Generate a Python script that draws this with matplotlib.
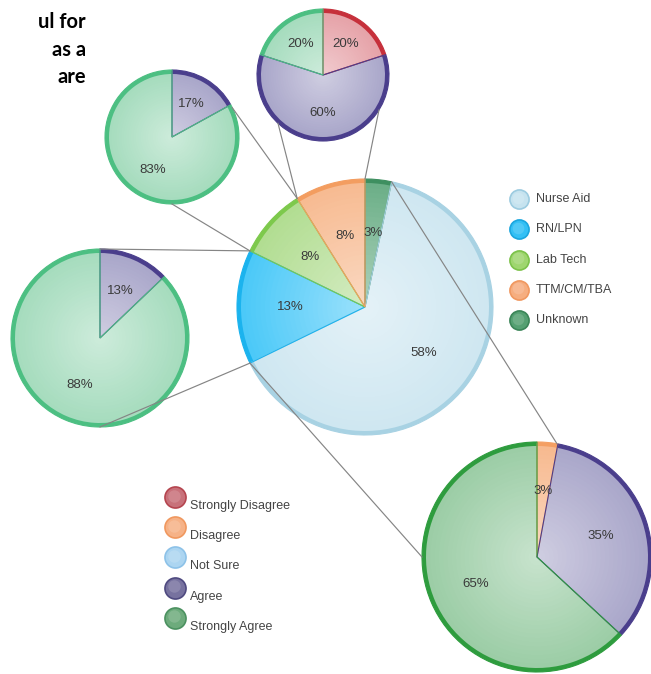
import matplotlib
matplotlib.use("Agg")
import matplotlib.pyplot as plt
import matplotlib.colors as mcolors
import numpy as np

# main pie: job category (values as printed on the slices)
jobs = ["Nurse Aid", "RN/LPN", "Lab Tech", "TTM/CM/TBA", "Unknown"]
job_pct = [58, 13, 8, 8, 3]
job_fill = ["#cfe7f1", "#4cc9f8", "#b2dd92", "#f7bb92", "#6caf88"]
job_rim = ["#a8d2e3", "#1bb3ee", "#7dc94c", "#f39d60", "#3e8f60"]
job_leg_face = ["#c6e3ef", "#33c0f5", "#9fd66f", "#f6ae80", "#55a072"]
job_leg_edge = ["#9ccbe0", "#1aa6de", "#7cc24a", "#f09860", "#3b8558"]

# answer categories
answers = ["Strongly Disagree", "Disagree", "Not Sure", "Agree", "Strongly Agree"]
ans_leg_face = ["#c8717a", "#f6b287", "#acd5f1", "#77729f", "#6dab7c"]
ans_leg_edge = ["#b5454f", "#f0985f", "#8dc2e8", "#4f4a80", "#4b9160"]

# sub pies: answers given by each job group
ttm_ans = ["Strongly Disagree", "Agree", "Strongly Agree"]
ttm_pct = [20, 60, 20]
lab_ans = ["Agree", "Strongly Agree"]
lab_pct = [17, 83]
rn_ans = ["Agree", "Strongly Agree"]
rn_pct = [13, 88]
na_ans = ["Disagree", "Agree", "Strongly Agree"]
na_pct = [3, 35, 65]

ans_fill = {"Strongly Disagree": "#e6a3a9", "Disagree": "#f7ba90", "Not Sure": "#b9dcf3",
            "Agree": "#aaa7ca", "Strongly Agree": "#a6dcbe"}
ans_rim = {"Strongly Disagree": "#c6303b", "Disagree": "#f49f63", "Not Sure": "#8dc2e8",
           "Agree": "#4a3e8c", "Strongly Agree": "#4cbf82"}

W, H = 651, 674


def py(y):
    return H - y


def blend(c, t):
    rgb = np.array(mcolors.to_rgb(c))
    return tuple(rgb + (1 - rgb) * t)


def draw_pie(ax, vals, fills, rims, cx, cy, r):
    c = (cx, py(cy))
    ax.pie(vals, colors=rims, radius=r, center=c, startangle=90,
           counterclock=False, wedgeprops=dict(linewidth=0))
    n = 26
    r0 = r - 4
    for i in range(n):
        rr = r0 * (1 - i / n)
        t = 0.45 * i / n
        ax.pie(vals, colors=[blend(f, t) for f in fills], radius=rr, center=c,
               startangle=90, counterclock=False, wedgeprops=dict(linewidth=0))
    w, tx = ax.pie(vals, labels=[f"{v}%" for v in vals], radius=r, center=c,
                   startangle=90, counterclock=False, labeldistance=0.58,
                   wedgeprops=dict(fill=False, linewidth=0.8),
                   textprops=dict(fontsize=9.5, color="#3a3a3a", family="Liberation Sans"))
    for wi, rc in zip(w, rims):
        wi.set_edgecolor(rc)
    for t in tx:
        t.set_ha("center")
        t.set_va("center")


def edge_angles(vals):
    cum = np.concatenate([[0], np.cumsum(vals)]) / np.sum(vals)
    return 90 - 360 * cum


def on_circle(cx, cy, r, ang):
    a = np.radians(ang)
    return cx + r * np.cos(a), py(cy) + r * np.sin(a)


fig = plt.figure(figsize=(6.51, 6.74), dpi=100)
ax = fig.add_axes([0, 0, 1, 1])

# main pie, clockwise from the top: Unknown, Nurse Aid, RN/LPN, Lab Tech, TTM
order = [4, 0, 1, 2, 3]
main_vals = [job_pct[i] for i in order]
mcx, mcy, mr = 365, 307, 128
draw_pie(ax, main_vals, [job_fill[i] for i in order], [job_rim[i] for i in order], mcx, mcy, mr)
edges = edge_angles(main_vals)
# boundaries: 0 top, 1 Unknown/NA, 2 NA/RN, 3 RN/Lab, 4 Lab/TTM
b = [on_circle(mcx, mcy, mr, a) for a in edges]

# sub pies: (values, answers, centre, radius, sub-circle angles, main boundary idx)
green_dark = {"Strongly Agree": ("#9ccda6", "#2e9c3e")}
subs = [
    (ttm_pct, ttm_ans, (323, 75), 66, (-32, 227), (0, 4), {}),
    (lab_pct, lab_ans, (172, 137), 67, (26, -90), (4, 3), {}),
    (rn_pct, rn_ans, (100, 338), 89, (90, -90), (3, 2), {}),
    (na_pct, na_ans, (537, 557), 115, (80, 180), (1, 2), green_dark),
]

for vals, ans, (cx, cy), r, angs, bidx, override in subs:
    fills = [override.get(a, (ans_fill[a], ans_rim[a]))[0] for a in ans]
    rims = [override.get(a, (ans_fill[a], ans_rim[a]))[1] for a in ans]
    draw_pie(ax, vals, fills, rims, cx, cy, r)
    for ang, bi in zip(angs, bidx):
        p = on_circle(cx, cy, r, ang)
        q = b[bi]
        ax.plot([p[0], q[0]], [p[1], q[1]], color="#858585", lw=0.85, zorder=10)

# job legend
for i, name in enumerate(jobs):
    y = py(199 + 30.3 * i)
    ax.scatter(519, y, s=190, c=job_leg_face[i], edgecolors=job_leg_edge[i], linewidths=1.2, zorder=5)
    ax.scatter(518, y + 1.5, s=70, c=blend(job_leg_face[i], 0.25), linewidths=0, zorder=5, alpha=0.6)
    ax.text(536, y, name, fontsize=9, color="#444444", va="center", family="Liberation Sans")

# answer legend
for i, name in enumerate(answers):
    y = py(497 + 30.2 * i)
    ax.scatter(175, y, s=230, c=ans_leg_face[i], edgecolors=ans_leg_edge[i], linewidths=1.2, zorder=5)
    ax.scatter(174, y + 1.5, s=80, c=blend(ans_leg_face[i], 0.25), linewidths=0, zorder=5, alpha=0.6)
    ax.text(190, y - 9, name, fontsize=9, color="#444444", va="center", family="Liberation Sans")

# cut-off slide text
for txt, yy in [("ul for", 22), ("as a", 50), ("are", 77)]:
    ax.text(86, py(yy), txt, fontsize=14.5, fontweight="bold", color="black",
            ha="right", va="center", family="Lato")

ax.set_xlim(0, W)
ax.set_ylim(0, H)
ax.set_aspect("equal")
ax.axis("off")
fig.savefig("out.png", dpi=100)
